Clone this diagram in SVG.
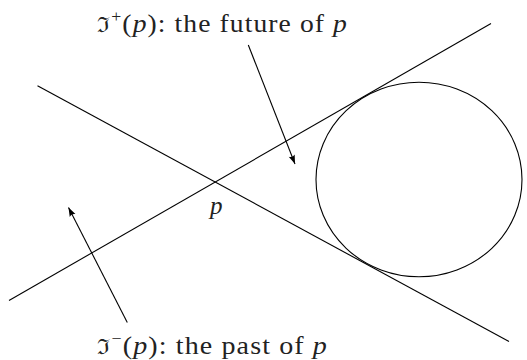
<svg xmlns="http://www.w3.org/2000/svg" width="527" height="360" viewBox="0 0 527 360">
<style>
.ln{stroke:#000;stroke-width:1.1;fill:none}
.tx{font-family:"Liberation Serif",serif;font-size:25px;fill:#222;letter-spacing:1px}
.bl{font-family:"DejaVu Serif",serif;font-size:21px}
.it{font-style:italic}
.sup{font-size:16px}
</style>
<defs>
<marker id="ah" markerUnits="userSpaceOnUse" markerWidth="12" markerHeight="10" viewBox="-10 -5 12 10" refX="0" refY="0" orient="auto">
<path d="M0,0 L-9,-3.2 Q-6.5,0 -9,3.2 Z" fill="#000"/>
</marker>
</defs>
<g id="connectors">
<line class="ln" x1="9" y1="300.5" x2="491" y2="23.5"/>
<line class="ln" x1="37.5" y1="85.7" x2="509" y2="341.5"/>
<line class="ln" x1="248.3" y1="45" x2="295" y2="164" marker-end="url(#ah)"/>
<line class="ln" x1="127.3" y1="322.5" x2="68.5" y2="207.5" marker-end="url(#ah)"/>
</g>
<g id="region">
<ellipse class="ln" cx="419" cy="179.5" rx="103" ry="97.3"/>
</g>
<g id="label-future">
<text class="tx" x="97" y="32" textLength="251" lengthAdjust="spacingAndGlyphs"><tspan class="bl">ℑ</tspan><tspan class="sup" dy="-10">+</tspan><tspan dy="10">(</tspan><tspan class="it">p</tspan>):  the future of <tspan class="it">p</tspan></text>
</g>
<g id="label-past">
<text class="tx" x="97" y="354" textLength="231" lengthAdjust="spacingAndGlyphs"><tspan class="bl">ℑ</tspan><tspan class="sup" dy="-10">−</tspan><tspan dy="10">(</tspan><tspan class="it">p</tspan>):  the past of <tspan class="it">p</tspan></text>
</g>
<g id="label-p">
<text class="tx it" x="210" y="214">p</text>
</g>
</svg>
